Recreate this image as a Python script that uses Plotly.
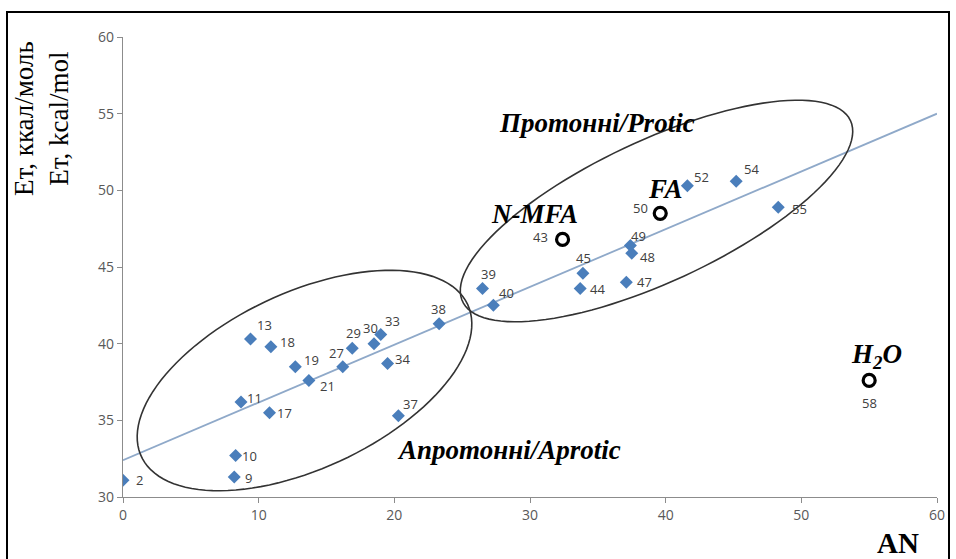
import numpy as np
import plotly.graph_objects as go

# ---- data ----
ids = ["2", "9", "10", "11", "17", "13", "18", "19", "21", "27", "29", "30", "33", "34", "37", "38",
       "39", "40", "44", "45", "47", "48", "49", "52", "54", "55"]
an = [0.0, 8.2, 8.3, 8.7, 10.8, 9.4, 10.9, 12.7, 13.7, 16.2, 16.9, 18.5, 19.0, 19.5, 20.3, 23.3,
      26.5, 27.3, 33.7, 33.9, 37.1, 37.5, 37.4, 41.6, 45.2, 48.3]
et = [31.1, 31.3, 32.7, 36.2, 35.5, 40.3, 39.8, 38.5, 37.6, 38.5, 39.7, 40.0, 40.6, 38.7, 35.3, 41.3,
      43.6, 42.5, 43.6, 44.6, 44.0, 45.9, 46.4, 50.3, 50.6, 48.9]

special_ids = ["43", "50", "58"]
special_an = [32.4, 39.6, 55.0]
special_et = [46.8, 48.5, 37.6]
special_names = ["<b><i>N-MFA</i></b>", "<b><i>FA</i></b>", "<b><i>H<sub>2</sub>O</i></b>"]

trend_x = [0, 60]
trend_y = [32.4, 55.0]

x_ticks = [0, 10, 20, 30, 40, 50, 60]
y_ticks = [30, 35, 40, 45, 50, 55, 60]

# ---- layout geometry ----
W, H = 956, 559
L, R, T, B = 123, 19, 37, 62
XR, YR = [0, 60], [30, 60]
pw, ph = W - L - R, H - T - B

def px2x(px):
    return XR[0] + (px - L) / pw * (XR[1] - XR[0])

def py2y(py):
    return YR[0] + (T + ph - py) / ph * (YR[1] - YR[0])

def ellipse_path(cx, cy, a, b, ang_deg, n=120):
    t = np.linspace(0, 2 * np.pi, n)
    th = np.deg2rad(ang_deg)
    ex = cx + a * np.cos(t) * np.cos(th) - b * np.sin(t) * np.sin(th)
    ey = cy - (a * np.cos(t) * np.sin(th) + b * np.sin(t) * np.cos(th))
    pts = [f"{px2x(u):.4f},{py2y(v):.4f}" for u, v in zip(ex, ey)]
    return "M " + " L ".join(pts) + " Z"

fig = go.Figure()

fig.add_trace(go.Scatter(x=trend_x, y=trend_y, mode="lines",
                         line=dict(color="#8fa9c9", width=1.8), hoverinfo="skip", showlegend=False))

fig.add_trace(go.Scatter(x=an, y=et, mode="markers",
                         marker=dict(symbol="diamond", size=10, color="#4a7ebb"),
                         showlegend=False))

fig.add_trace(go.Scatter(x=special_an, y=special_et, mode="markers",
                         marker=dict(symbol="circle-open", size=12, color="black", line=dict(width=3.2)),
                         showlegend=False))

# label offsets (px) relative to marker
offsets = {
    "2": (16, 0), "9": (14, -1), "10": (14, 0), "11": (13, 4), "17": (15, 0), "13": (14, 14),
    "18": (17, 5), "19": (16, 7), "21": (19, -6), "27": (-6, 14), "29": (1, 15), "30": (-3, 16),
    "33": (12, 13), "34": (15, 5), "37": (12, 12), "38": (-1, 15), "39": (6, 14), "40": (13, 12),
    "44": (17, -1), "45": (1, 15), "47": (18, 0), "48": (16, -4), "49": (8, 10), "52": (14, 9),
    "54": (15, 12), "55": (21, -2),
    "43": (-22, 2), "50": (-20, 5), "58": (0, -23),
}
lab_font = dict(family="Open Sans", size=13, color="#404040")
for i, xv, yv in zip(ids + special_ids, an + special_an, et + special_et):
    dx, dy = offsets[i]
    fig.add_annotation(x=xv, y=yv, text=i, showarrow=False, xshift=dx, yshift=dy,
                       font=lab_font, xanchor="center", yanchor="middle")

name_off = [(-28, 25), (5, 24), (7, 24)]
for nm, xv, yv, (dx, dy) in zip(special_names, special_an, special_et, name_off):
    fig.add_annotation(x=xv, y=yv, text=nm, showarrow=False, xshift=dx, yshift=dy,
                       xanchor="center", yanchor="middle",
                       font=dict(family="Liberation Serif", size=27, color="black"))

# group ellipses
fig.add_shape(type="path", path=ellipse_path(304.5, 380.5, 180, 88, 25),
              line=dict(color="#333333", width=1.6))
fig.add_shape(type="path", path=ellipse_path(656.5, 211, 214, 70.6, 25),
              line=dict(color="#333333", width=1.6))

fig.add_annotation(x=px2x(597), y=py2y(123), text="<b><i>Протонні/Protic</i></b>", showarrow=False,
                   xanchor="center", yanchor="middle",
                   font=dict(family="Liberation Serif", size=27, color="black"))
fig.add_annotation(x=px2x(509), y=py2y(450), text="<b><i>Апротонні/Aprotic</i></b>", showarrow=False,
                   xanchor="center", yanchor="middle",
                   font=dict(family="Liberation Serif", size=27, color="black"))

fig.add_annotation(xref="paper", yref="paper", x=(898 - L) / pw, y=(T + ph - 543) / ph,
                   text="<b>AN</b>", showarrow=False, xanchor="center", yanchor="middle",
                   font=dict(family="Liberation Serif", size=29, color="black"))

fig.add_annotation(xref="paper", yref="paper", x=(42 - L) / pw, y=(T + ph - 119) / ph,
                   text="Ет, ккал/моль<br>Ет, kcal/mol", showarrow=False, textangle=-90,
                   xanchor="center", yanchor="middle",
                   font=dict(family="Liberation Serif", size=27, color="black"))

# outer frame
fig.add_shape(type="rect", xref="paper", yref="paper",
              x0=(7 - L) / pw, x1=(949 - L) / pw, y0=(T + ph - 570) / ph, y1=(T + ph - 12) / ph,
              line=dict(color="black", width=2))

axis_common = dict(showgrid=False, zeroline=False, showline=True, linecolor="#8c8c8c", linewidth=1.2,
                   ticks="outside", tickcolor="#8c8c8c", ticklen=5,
                   tickfont=dict(family="Open Sans", size=14, color="#595959"))
fig.update_xaxes(range=XR, tickvals=x_ticks, **axis_common)
fig.update_yaxes(range=YR, tickvals=y_ticks, **axis_common)

fig.update_layout(width=W, height=H, margin=dict(l=L, r=R, t=T, b=B),
                  plot_bgcolor="white", paper_bgcolor="white", showlegend=False)

fig.write_html("out.html")
